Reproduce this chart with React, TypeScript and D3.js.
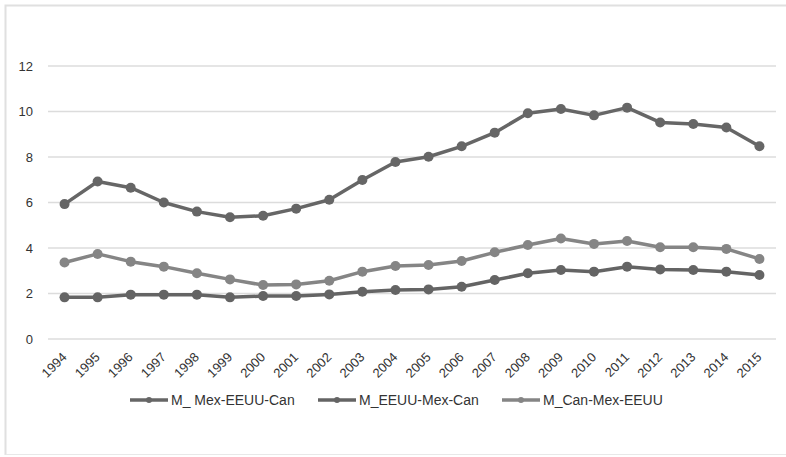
import React from "react";
import * as d3 from "d3";

const years = ["1994","1995","1996","1997","1998","1999","2000","2001","2002","2003","2004","2005","2006","2007","2008","2009","2010","2011","2012","2013","2014","2015"];
const mexEEUUCan = [5.93,6.92,6.65,6.0,5.6,5.35,5.42,5.73,6.12,6.99,7.78,8.01,8.47,9.07,9.92,10.11,9.83,10.17,9.52,9.45,9.30,8.47];
const eeuuMexCan = [1.83,1.83,1.95,1.95,1.95,1.83,1.89,1.89,1.96,2.08,2.15,2.18,2.30,2.59,2.89,3.03,2.96,3.18,3.06,3.03,2.96,2.81];
const canMexEEUU = [3.36,3.74,3.40,3.18,2.89,2.62,2.37,2.40,2.56,2.96,3.21,3.25,3.43,3.81,4.13,4.42,4.18,4.31,4.03,4.03,3.96,3.52];
const seriesNames = ["M_ Mex-EEUU-Can", "M_EEUU-Mex-Can", "M_Can-Mex-EEUU"];
const yTicks = [0, 2, 4, 6, 8, 10, 12];

const W = 786, H = 457;
const colors = ["#666666", "#646464", "#858585"];

export default function App() {
  const x = d3.scaleBand<string>().domain(years).range([48, 776]);
  const y = d3.scaleLinear().domain([0, 12]).range([339, 66]);
  const cx = (d: string) => (x(d) as number) + x.bandwidth() / 2;
  const line = d3.line<number>().x((_, i) => cx(years[i])).y((v) => y(v));
  const series = [mexEEUUCan, eeuuMexCan, canMexEEUU];
  const order = [2, 1, 0];
  const font = "'Liberation Sans', Arial, Helvetica, sans-serif";
  const legendX = [130, 318, 502];
  return (
    <svg width={W} height={H} style={{ position: "absolute", left: 0, top: 0 }} fontFamily={font}>
      <rect x={0} y={0} width={W} height={H} fill="#fff" />
      <path d={`M5.5,${H - 2} V5.5 H${W}`} fill="none" stroke="#e0e0e0" strokeWidth={2} />
      <path d={`M5.5,${H - 2.5} H${W}`} fill="none" stroke="#e8e8e8" strokeWidth={1} />
      {yTicks.map((t) => (
        <g key={t}>
          <line x1={48} x2={776} y1={y(t)} y2={y(t)} stroke="#dcdcdc" strokeWidth={1.5} />
          <text x={33} y={y(t)} dy="0.35em" textAnchor="end" fontSize={13} fill="#333">{t}</text>
        </g>
      ))}
      {years.map((yr) => (
        <text key={yr} transform={`translate(${cx(yr) + 3},${y(0) + 19}) rotate(-45)`} textAnchor="end" fontSize={13} fill="#333">{yr}</text>
      ))}
      {order.map((si) => (
        <g key={si}>
          <path d={line(series[si]) || ""} fill="none" stroke={colors[si]} strokeWidth={3.5} strokeLinejoin="round" />
          {series[si].map((v, i) => (
            <circle key={i} cx={cx(years[i])} cy={y(v)} r={5} fill={colors[si]} />
          ))}
        </g>
      ))}
      {seriesNames.map((n, i) => (
        <g key={n}>
          <line x1={legendX[i]} x2={legendX[i] + 38} y1={400} y2={400} stroke={colors[i]} strokeWidth={3.5} />
          <circle cx={legendX[i] + 19} cy={400} r={3} fill={colors[i]} />
          <text x={legendX[i] + 41} y={400} dy="0.35em" fontSize={14} fill="#333">{n}</text>
        </g>
      ))}
    </svg>
  );
}
